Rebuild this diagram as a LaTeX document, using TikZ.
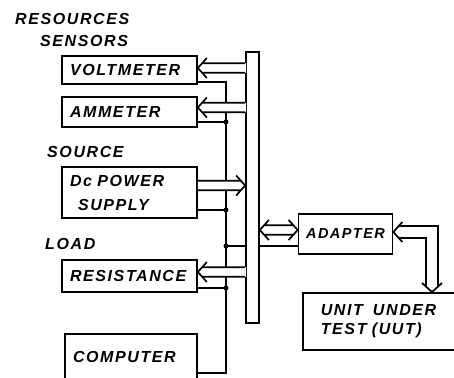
\documentclass[tikz,border=0pt]{standalone}
\usepackage{fontspec}
\newfontfamily\sketchfont{Liberation Sans}[LetterSpace=10]
\usetikzlibrary{calc,positioning}

\newcommand{\letterfont}{\sketchfont\bfseries\itshape\fontsize{16pt}{19pt}\selectfont}
\newcommand{\arrhw}{10pt}
\newcommand{\arrhl}{9pt}
\newcommand{\arrsw}{4.8pt}
\newcommand{\arrj}{4.3pt}

% hollow arrow: tail (only x used), tip; optional overlap into the bus
\newcommand{\hollowarrow}[3][0pt]{%
  \fill[white] let \p1=#2, \p2=#3, \n1={ifthenelse(\x2>\x1,1,-1)} in
    (\x2,\y2) -- (\x2-\n1*\arrj,\y2+\arrsw) -- (\x1-\n1*#1,\y2+\arrsw)
    -- (\x1-\n1*#1,\y2-\arrsw) -- (\x2-\n1*\arrj,\y2-\arrsw) -- cycle;
  \draw[wire] let \p1=#2, \p2=#3, \n1={ifthenelse(\x2>\x1,1,-1)} in
    (\x2-\n1*\arrhl,\y2+\arrhw) -- (\x2,\y2) -- (\x2-\n1*\arrhl,\y2-\arrhw)
    (\x2-\n1*\arrj,\y2+\arrsw) -- (\x1,\y2+\arrsw)
    (\x2-\n1*\arrj,\y2-\arrsw) -- (\x1,\y2-\arrsw);
}
% hollow arrow with two heads, height taken from the first tip
\newcommand{\hollowboth}[2]{%
  \fill[white] let \p1=#1, \p2=#2, \n1={ifthenelse(\x2>\x1,1,-1)} in
    (\x1,\y1) -- (\x1+\n1*\arrj,\y1+\arrsw) -- (\x2-\n1*\arrj,\y1+\arrsw)
    -- (\x2,\y1) -- (\x2-\n1*\arrj,\y1-\arrsw) -- (\x1+\n1*\arrj,\y1-\arrsw) -- cycle;
  \draw[wire] let \p1=#1, \p2=#2, \n1={ifthenelse(\x2>\x1,1,-1)} in
    (\x1+\n1*\arrhl,\y1+\arrhw) -- (\x1,\y1) -- (\x1+\n1*\arrhl,\y1-\arrhw)
    (\x2-\n1*\arrhl,\y1+\arrhw) -- (\x2,\y1) -- (\x2-\n1*\arrhl,\y1-\arrhw)
    (\x1+\n1*\arrj,\y1+\arrsw) -- (\x2-\n1*\arrj,\y1+\arrsw)
    (\x1+\n1*\arrj,\y1-\arrsw) -- (\x2-\n1*\arrj,\y1-\arrsw);
}

\tikzset{
  wire/.style={line width=1.7pt},
  unit/.style={draw, line width=1.7pt, text width=119pt, inner xsep=8pt,
    align=left, font=\letterfont},
  tag/.style={inner sep=0pt, anchor=west, font=\letterfont},
  dot/.style={circle, fill, inner sep=0pt, minimum size=5pt},
}

\begin{document}
\begin{tikzpicture}[x=1pt,y=-1pt]
\useasboundingbox (0,0) rectangle (454,377);
\clip (0,0) rectangle (454,377);

% headings
\node[tag] (resources) at (15,19) {RESOURCES};
\node[tag] (sensors) at (40,41) {SENSORS};
\node[tag] (source) at (47,152) {SOURCE};
\node[tag] (load) at (45,244) {LOAD};

% resource boxes
\node[unit, minimum height=28pt] (volt) at (129.5,70) {VOLTMETER};
\node[unit, minimum height=30pt] (amm) at (129.5,112) {AMMETER};
\node[unit, minimum height=51pt] (dcps) at (129.5,192.5) {Dc POWER\\[5pt]\hspace*{8pt}SUPPLY};
\node[unit, minimum height=32pt] (res) at (129.5,276) {RESISTANCE};
\node[unit, text width=116pt, anchor=north, text height=12pt, text depth=30pt,
  inner ysep=17pt] (comp) at (131,333) {COMPUTER};

% bus
\node[draw, line width=1.7pt, minimum width=13pt, minimum height=271pt,
  inner sep=0pt] (bus) at (252.5,187.5) {};

% adapter and unit under test
\node[unit, text width=80pt, minimum height=40pt, align=center,
  font=\letterfont\fontsize{14.5pt}{17pt}\selectfont, inner xsep=7pt] (adapt) at (345.5,234) {ADAPTER};
\node[unit, text width=160pt, minimum height=57pt, inner xsep=18pt,
  anchor=north west] (uut) at (302,292) {UNIT\hspace{10pt}UNDER\\TEST (UUT)};

% control line from the computer
\coordinate (ctl) at (226,0);
\coordinate (vc) at ([yshift=-12pt]volt.east);
\coordinate (ac) at ([yshift=-10pt]amm.east);
\coordinate (pc) at ([yshift=-17.5pt]dcps.east);
\coordinate (rc) at ([yshift=-12pt]res.east);
\coordinate (cc) at ([yshift=-1pt]comp.east);
\coordinate (adc) at ([yshift=-12pt]adapt.west);

\draw[wire] (vc) -| (ctl |- cc) -- (cc);
\draw[wire] (ac) -- (ac -| ctl) node[dot] (d1) {};
\draw[wire] (pc) -- (pc -| ctl) node[dot] (d2) {};
\draw[wire] (rc) -- (rc -| ctl) node[dot] (d4) {};
\draw[wire] (bus.west |- adc) -- (adc -| ctl) node[dot] (d3) {};
\draw[wire] (bus.east |- adc) -- (adc);

% data paths
\coordinate (pa) at ([yshift=7pt]dcps.east);
\hollowarrow[1pt]{(bus.west)}{([yshift=2pt]volt.east)}
\hollowarrow[1pt]{(bus.west)}{([yshift=4.5pt]amm.east)}
\hollowarrow{(pa)}{(bus.west |- pa)}
\hollowarrow[1pt]{(bus.west)}{([yshift=4pt]res.east)}
\hollowboth{([yshift=4pt]adapt.west)}{(bus.east)}

% adapter to UUT
\coordinate (ta) at ([yshift=2pt]adapt.east);
\coordinate (tu) at ($(uut.north west)+(130pt,0)$);
\fill[white] let \p1=(ta), \p2=(tu) in
  (\x1,\y1) -- (\x1+5.4pt,\y1+6pt) -- (\x2+6pt,\y1+6pt) -- (\x2+6pt,\y2+5.4pt)
  -- (\x2,\y2) -- (\x2-6pt,\y2+5.4pt) -- (\x2-6pt,\y1-6pt) -- (\x1+5.4pt,\y1-6pt) -- cycle;
\draw[wire, line join=miter] let \p1=(ta), \p2=(tu) in
  (\x1+9pt,\y1+10pt) -- (\x1,\y1) -- (\x1+9pt,\y1-10pt)
  (\x1+5.4pt,\y1+6pt) -- (\x2+6pt,\y1+6pt) -- (\x2+6pt,\y2+5.4pt)
  (\x1+5.4pt,\y1-6pt) -- (\x2-6pt,\y1-6pt) -- (\x2-6pt,\y2+5.4pt)
  (\x2-10pt,\y2+9pt) -- (\x2,\y2) -- (\x2+10pt,\y2+9pt);

\end{tikzpicture}
\end{document}
